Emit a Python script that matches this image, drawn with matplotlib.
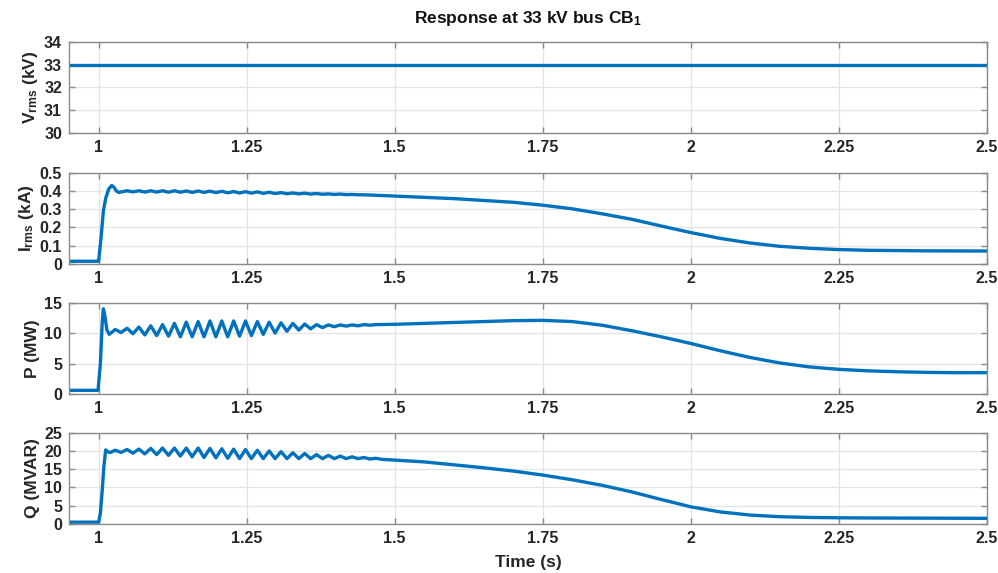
import matplotlib
matplotlib.use("Agg")
import matplotlib.pyplot as plt
from matplotlib.ticker import FixedLocator, FixedFormatter

plt.rcParams['font.family'] = ['Liberation Sans', 'DejaVu Sans']
plt.rcParams['font.weight'] = 'bold'
plt.rcParams['mathtext.fontset'] = 'custom'
plt.rcParams['mathtext.rm'] = 'Liberation Sans:bold'
plt.rcParams['mathtext.bf'] = 'Liberation Sans:bold'
plt.rcParams['mathtext.it'] = 'Liberation Sans:bold'
plt.rcParams['mathtext.default'] = 'bf'

# ---- measured signals at the 33 kV bus ----
v_time = [0.95, 2.5]
v_kv = [33.0, 33.0]

i_time = [0.95, 1.0, 1.004, 1.008, 1.012, 1.017, 1.022, 1.026, 1.030, 1.034, 1.040,
          1.048, 1.058, 1.068, 1.078, 1.088, 1.098, 1.108, 1.118, 1.128, 1.138,
          1.148, 1.158, 1.168, 1.178, 1.188, 1.198, 1.208, 1.218, 1.228, 1.238,
          1.248, 1.258, 1.268, 1.278, 1.288, 1.298, 1.308, 1.318, 1.328, 1.338,
          1.348, 1.358, 1.368, 1.378, 1.388, 1.398, 1.408, 1.418, 1.428, 1.438,
          1.448, 1.5, 1.6, 1.7, 1.75, 1.8, 1.85, 1.9, 1.95, 2.0, 2.05, 2.1,
          2.15, 2.2, 2.25, 2.3, 2.4, 2.5]
i_ka = [0.015, 0.015, 0.14, 0.29, 0.36, 0.41, 0.43, 0.42, 0.40, 0.392, 0.396,
        0.401, 0.395, 0.401, 0.394, 0.401, 0.394, 0.401, 0.393, 0.401, 0.393,
        0.400, 0.392, 0.400, 0.392, 0.399, 0.391, 0.398, 0.390, 0.397, 0.389,
        0.396, 0.388, 0.395, 0.387, 0.393, 0.386, 0.391, 0.385, 0.389, 0.384,
        0.388, 0.383, 0.386, 0.382, 0.384, 0.381, 0.383, 0.380, 0.381, 0.379,
        0.379, 0.372, 0.358, 0.338, 0.322, 0.302, 0.275, 0.245, 0.208, 0.172,
        0.140, 0.115, 0.097, 0.086, 0.079, 0.075, 0.072, 0.071]

p_time = [0.95, 0.999, 1.003, 1.006, 1.008, 1.010, 1.014, 1.018,
          1.028, 1.038, 1.048, 1.058, 1.068, 1.078, 1.088, 1.098, 1.108, 1.118,
          1.128, 1.138, 1.148, 1.158, 1.168, 1.178, 1.188, 1.198, 1.208, 1.218,
          1.228, 1.238, 1.248, 1.258, 1.268, 1.278, 1.288, 1.298, 1.308, 1.318,
          1.328, 1.338, 1.348, 1.358, 1.368, 1.378, 1.388, 1.398, 1.408, 1.418,
          1.428, 1.438, 1.448, 1.458, 1.468, 1.5, 1.55, 1.6, 1.65, 1.7, 1.75,
          1.8, 1.85, 1.9, 1.95, 2.0, 2.05, 2.1, 2.15, 2.2, 2.25, 2.3, 2.35,
          2.4, 2.45, 2.5]
p_mw = [0.6, 0.6, 5.0, 11.5, 14.0, 13.2, 10.5, 9.8,
        10.6, 10.1, 10.8, 9.9, 11.0, 9.7, 11.2, 9.6, 11.4, 9.5,
        11.6, 9.4, 11.8, 9.4, 11.9, 9.4, 12.0, 9.4, 12.0, 9.4,
        12.0, 9.5, 12.0, 9.6, 11.9, 9.8, 11.8, 10.0, 11.7, 10.3,
        11.6, 10.5, 11.5, 10.7, 11.4, 10.9, 11.35, 11.05, 11.35, 11.15,
        11.35, 11.2, 11.4, 11.3, 11.4, 11.45, 11.6, 11.75, 11.9, 12.05, 12.1,
        11.9, 11.3, 10.4, 9.4, 8.3, 7.1, 6.0, 5.1, 4.45, 4.05, 3.8, 3.65,
        3.55, 3.5, 3.5]

q_time = [0.95, 1.0, 1.003, 1.006, 1.009, 1.012, 1.016, 1.020,
          1.028, 1.038, 1.048, 1.058, 1.068, 1.078, 1.088, 1.098, 1.108, 1.118,
          1.128, 1.138, 1.148, 1.158, 1.168, 1.178, 1.188, 1.198, 1.208, 1.218,
          1.228, 1.238, 1.248, 1.258, 1.268, 1.278, 1.288, 1.298, 1.308, 1.318,
          1.328, 1.338, 1.348, 1.358, 1.368, 1.378, 1.388, 1.398, 1.408, 1.418,
          1.428, 1.438, 1.448, 1.458, 1.468, 1.478, 1.5, 1.55, 1.6, 1.65, 1.7,
          1.75, 1.8, 1.85, 1.9, 1.95, 2.0, 2.05, 2.1, 2.15, 2.2, 2.25, 2.3,
          2.4, 2.5]
q_mvar = [0.5, 0.5, 3.0, 9.0, 16.0, 20.3, 19.7, 19.6,
          20.2, 19.6, 20.4, 19.4, 20.5, 19.2, 20.7, 19.0, 20.8, 18.8,
          20.8, 18.6, 20.8, 18.4, 20.8, 18.2, 20.7, 18.1, 20.6, 18.0,
          20.5, 17.9, 20.4, 17.9, 20.2, 17.9, 20.0, 17.9, 19.8, 17.9,
          19.5, 17.9, 19.3, 17.9, 19.0, 17.9, 18.8, 17.9, 18.6, 17.9,
          18.4, 17.9, 18.2, 17.8, 18.0, 17.7, 17.5, 17.0, 16.2, 15.4, 14.5,
          13.4, 12.1, 10.6, 8.8, 6.7, 4.7, 3.3, 2.45, 2.0, 1.8, 1.7, 1.65,
          1.6, 1.55]

x_ticks = [1.0, 1.25, 1.5, 1.75, 2.0, 2.25, 2.5]
x_tick_labels = ['1', '1.25', '1.5', '1.75', '2', '2.25', '2.5']

panels = [
    (v_time, v_kv, r'V$_{rms}$ (kV)', (30, 34), [30, 31, 32, 33, 34], ['30', '31', '32', '33', '34']),
    (i_time, i_ka, r'I$_{rms}$ (kA)', (0, 0.5), [0, 0.1, 0.2, 0.3, 0.4, 0.5], ['0', '0.1', '0.2', '0.3', '0.4', '0.5']),
    (p_time, p_mw, 'P (MW)', (0, 15), [0, 5, 10, 15], ['0', '5', '10', '15']),
    (q_time, q_mvar, 'Q (MVAR)', (0, 25), [0, 5, 10, 15, 20, 25], ['0', '5', '10', '15', '20', '25']),
]

W, H = 998, 573
fig = plt.figure(figsize=(W / 100, H / 100), dpi=100)
fig.patch.set_facecolor('white')

left_px, right_px = 69, 987
tops_px = [41.7, 172.7, 302.7, 432.7]
height_px = 91.3

line_color = '#0072BD'
edge_color = '#8a8a8a'
text_color = '#262626'

axes = []
for (t, y, label, ylim, yt, ytl), top in zip(panels, tops_px):
    ax = fig.add_axes([left_px / W, 1 - (top + height_px) / H,
                       (right_px - left_px) / W, height_px / H])
    ax.plot(t, y, color=line_color, lw=2.4, solid_joinstyle='round', solid_capstyle='round')
    ax.set_xlim(0.95, 2.5)
    ax.set_ylim(*ylim)
    ax.xaxis.set_major_locator(FixedLocator(x_ticks))
    ax.xaxis.set_major_formatter(FixedFormatter(x_tick_labels))
    ax.yaxis.set_major_locator(FixedLocator(yt))
    ax.yaxis.set_major_formatter(FixedFormatter(ytl))
    ax.grid(True, color='#e3e3e3', lw=0.9)
    ax.set_axisbelow(True)
    for s in ax.spines.values():
        s.set_color(edge_color)
        s.set_linewidth(1.0)
    ax.tick_params(direction='in', length=4, width=1, color=edge_color,
                   top=True, right=True, labelsize=11.5, labelcolor=text_color, pad=5)
    for lab in ax.get_xticklabels() + ax.get_yticklabels():
        lab.set_fontweight('bold')
    ax.set_ylabel(label, fontsize=12.5, fontweight='bold', color=text_color, labelpad=3)
    axes.append(ax)

fig.text(528 / W, 1 - 18 / H, r'Response at 33 kV bus CB$_1$', ha='center', va='center',
         fontsize=12.5, fontweight='bold', color='#111111')
fig.text(528 / W, 1 - 562 / H, 'Time (s)', ha='center', va='center',
         fontsize=12.5, fontweight='bold', color=text_color)

fig.savefig('out.png', dpi=100, facecolor='white')
